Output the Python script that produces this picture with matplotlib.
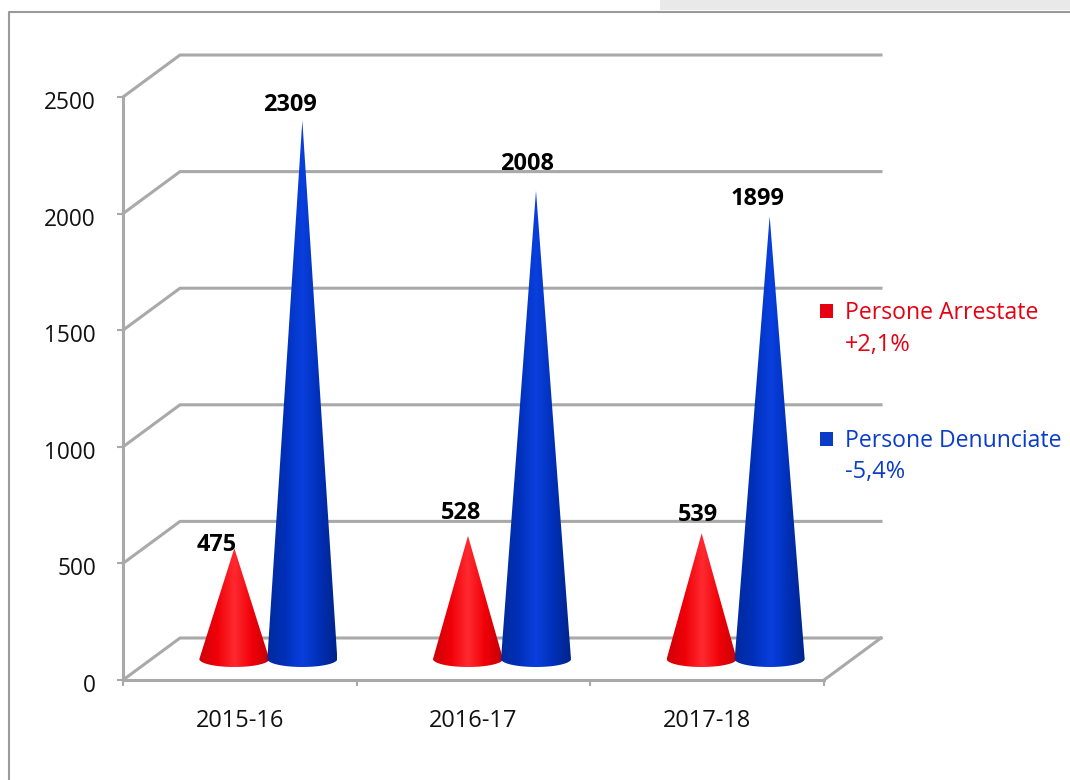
import numpy as np
import matplotlib
matplotlib.use("Agg")
import matplotlib.pyplot as plt
from matplotlib.colors import LinearSegmentedColormap
from matplotlib.lines import Line2D
from matplotlib.patches import Patch, Polygon, Rectangle
from matplotlib.transforms import ScaledTranslation

plt.rcParams['font.family'] = ['Open Sans', 'DejaVu Sans']

categories = ['2015-16', '2016-17', '2017-18']
arrestate = [475, 528, 539]
denunciate = [2309, 2008, 1899]
y_ticks = [0, 500, 1000, 1500, 2000, 2500]
names = ['Persone Arrestate', 'Persone Denunciate']
changes = ['+2,1%', '-5,4%']

W, H = 1070, 780
fig = plt.figure(figsize=(W / 100, H / 100), dpi=100, facecolor='white')
L, R, T, B = 123, 824, 97, 680
ax = fig.add_axes([L / W, 1 - B / H, (R - L) / W, (B - T) / H])
ax.set_xlim(0, 3)
ax.set_ylim(0, 2500)
ax.patch.set_visible(False)

PX = 3 / (R - L)
PY = 2500 / (B - T)
DX, DY = 57 * PX, 42 * PY
GRID = '#a9a9a9'
LW = 2.2
FS = 16.3
FS2 = 16.9
FS3 = 16.6

# outer frame and the faint strip cut off at the top
fig.add_artist(Rectangle((660 / W, 1 - 10 / H), 410 / W, 10 / H, transform=fig.transFigure,
                         facecolor='#e9e9e9', edgecolor='none'))
fig.add_artist(Line2D([9 / W, 9 / W, 1], [0, 1 - 12 / H, 1 - 12 / H], transform=fig.transFigure,
                      color='#9a9a9a', lw=1.5))

# 3D box: back wall lines, side wall diagonals, floor
for v in y_ticks:
    ax.plot([0, DX, 3 + DX], [v, v + DY, v + DY],
            color=GRID, lw=LW, clip_on=False, zorder=1, solid_joinstyle='round')
ax.plot([3, 3 + DX], [0, DY], color=GRID, lw=LW, clip_on=False, zorder=1)

for s in ('top', 'right'):
    ax.spines[s].set_visible(False)
for s in ('left', 'bottom'):
    ax.spines[s].set_color(GRID)
    ax.spines[s].set_linewidth(LW)
    ax.spines[s].set_zorder(1.5)
ax.set_yticks(y_ticks)
ax.set_xticks(range(4))
ax.set_xticklabels([])
ax.set_xticks(np.arange(len(categories)) + 0.5, categories, minor=True)
ax.tick_params(axis='both', which='major', color=GRID, width=1.5, length=4.5, labelsize=FS)
ax.tick_params(axis='y', pad=15, labelcolor='#111111')
ax.tick_params(axis='x', which='minor', length=0, pad=21, labelsize=FS2, labelcolor='#111111')
shift = ScaledTranslation(0, -3 / 100, fig.dpi_scale_trans)
for t in ax.get_yticklabels():
    t.set_transform(t.get_transform() + shift)

RED = LinearSegmentedColormap.from_list('r', ['#cf0008', '#f00008', '#ff2a30', '#f00008', '#c40006'])
BLUE = LinearSegmentedColormap.from_list('b', ['#002a9e', '#0030b8', '#0a3fde', '#0030b8', '#00248c'])


def cone(xc, value, cmap, z):
    hw, hh = 35 * PX, 8 * PY
    base = DY / 2
    t = np.linspace(np.pi, 2 * np.pi, 40)
    xs = np.r_[xc, xc + hw * np.cos(t)]
    ys = np.r_[base + value, base + hh * np.sin(t)]
    poly = Polygon(np.c_[xs, ys], closed=True, transform=ax.transData, facecolor='none', edgecolor='none')
    ax.add_patch(poly)
    im = ax.imshow(np.linspace(0, 1, 64).reshape(1, -1), cmap=cmap, aspect='auto', interpolation='bilinear',
                   extent=(xc - hw, xc + hw, base - hh, base + value), zorder=z)
    im.set_clip_path(poly)


label_offsets_a = [(-18, 3), (-7, 23), (-4, 18)]
label_offsets_d = [(-12, 16), (-9, 27), (-12, 17)]
for i in range(len(categories)):
    xm = i + 0.5 + DX / 2
    cone(xm - 34 * PX, arrestate[i], RED, 3)
    cone(xm + 34 * PX, denunciate[i], BLUE, 4)
    for val, xc, off in ((arrestate[i], xm - 34 * PX, label_offsets_a[i]),
                         (denunciate[i], xm + 34 * PX, label_offsets_d[i])):
        ax.annotate(str(val), (xc, val + DY / 2), xytext=(off[0] * .72, off[1] * .72),
                    textcoords='offset points', ha='center', va='center', fontsize=FS2,
                    fontweight='bold', color='black', zorder=6, annotation_clip=False)
ax.set_xlim(0, 3)
ax.set_ylim(0, 2500)

# legend
RC, BC = '#e60012', '#0a3cc8'
handles = [Patch(facecolor=RC, edgecolor='none'), Patch(facecolor=BC, edgecolor='none')]
leg = fig.legend(handles, names, loc='upper left', bbox_to_anchor=(820 / W, 1 - 301 / H),
                 frameon=False, fontsize=FS3, labelcolor=[RC, BC], borderaxespad=0, borderpad=0,
                 handlelength=0.57, handleheight=0.57, handletextpad=0.51, labelspacing=4.5)
fig.text(845 / W, 1 - 345 / H, changes[0], color=RC, fontsize=FS2, va='center')
fig.text(845 / W, 1 - 472 / H, changes[1], color=BC, fontsize=FS2, va='center')

fig.savefig('out.png', dpi=100, facecolor='white')
